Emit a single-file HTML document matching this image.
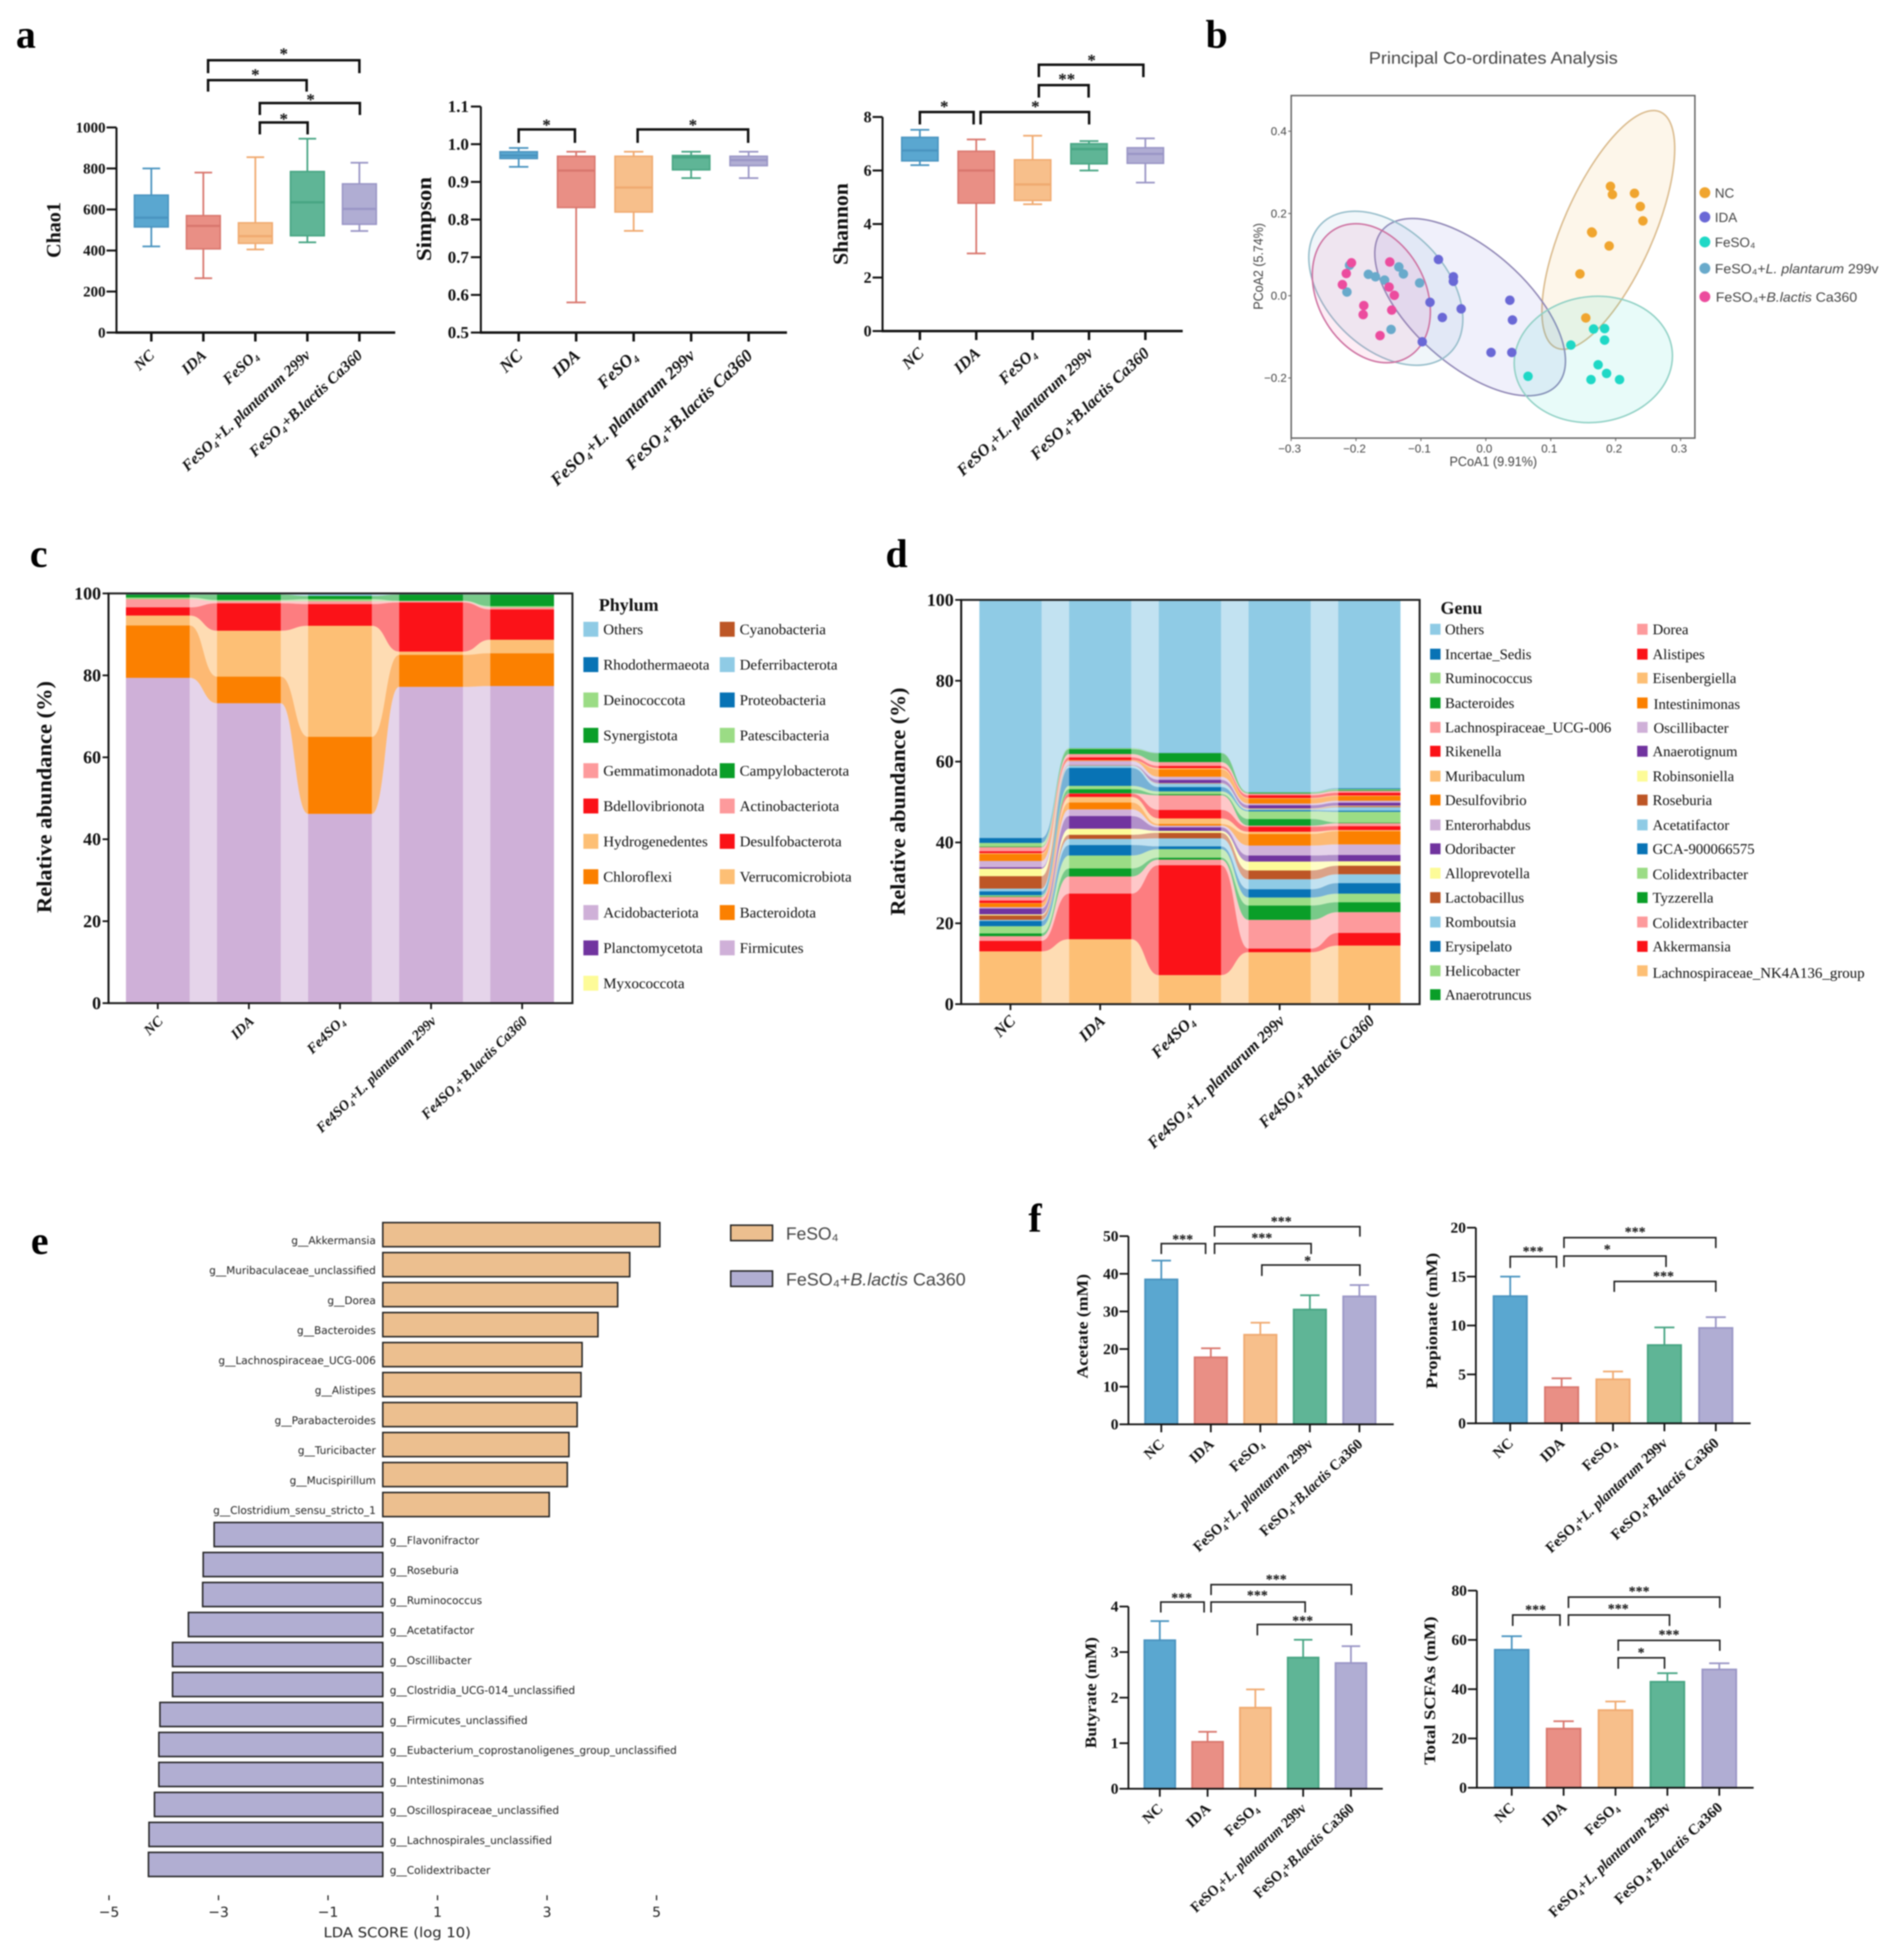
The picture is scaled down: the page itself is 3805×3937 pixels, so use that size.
<!DOCTYPE html>
<html lang="en">
<head>
<meta charset="utf-8">
<title>Gut microbiota and SCFA figure</title>
<style>
html,body{margin:0;padding:0;background:#fff}
#fig{display:block;filter:blur(1.3px)}
text{font-family:"Liberation Serif","DejaVu Serif",serif;fill:#111}
.pl{font-size:80px;font-weight:bold;fill:#000}
.yt{font-weight:bold;text-anchor:middle}
.lc{font-size:30px}
.ld{font-size:29.5px}
.br{fill:none;stroke:#111;stroke-width:5}
.brf{fill:none;stroke:#222;stroke-width:3.2}
.st{font-weight:bold;font-size:34px;text-anchor:middle}
.stf{font-weight:bold;font-size:28px;text-anchor:middle}
.sans{font-family:"Liberation Sans","DejaVu Sans",sans-serif;fill:#444}
.dj{font-family:"DejaVu Sans",sans-serif;fill:#222}
</style>
</head>
<body>
<svg id="fig" xmlns="http://www.w3.org/2000/svg" width="3805" height="3937" viewBox="0 0 3805 3937">
<rect width="3805" height="3937" fill="#fff"/>

<!-- panel letters -->
<text class="pl" x="32" y="96">a</text>
<text class="pl" x="2422" y="96">b</text>
<text class="pl" x="60" y="1139">c</text>
<text class="pl" x="1779" y="1139">d</text>
<text class="pl" x="62" y="2519">e</text>
<text class="pl" x="2066" y="2474">f</text>

<!-- panel a annotations -->
<g id="panelA">
<text class="yt" font-size="40" transform="rotate(-90 121 462)" x="121" y="462" textLength="112" lengthAdjust="spacingAndGlyphs">Chao1</text>
<text class="yt" font-size="42" transform="rotate(-90 866 440)" x="866" y="440" textLength="169" lengthAdjust="spacingAndGlyphs">Simpson</text>
<text class="yt" font-size="42" transform="rotate(-90 1703 450)" x="1703" y="450" textLength="164" lengthAdjust="spacingAndGlyphs">Shannon</text>
<g>
<path class="br" d="M418 147V121H722V147"/><text class="st" x="570" y="119">*</text>
<path class="br" d="M418 184V161H616V184"/><text class="st" x="513" y="161">*</text>
<path class="br" d="M522 231V207H723V231"/><text class="st" x="624" y="211">*</text>
<path class="br" d="M522 270V246H618V270"/><text class="st" x="570" y="250">*</text>
</g>
<g>
<path class="br" d="M1042 287V260H1155V287"/><text class="st" x="1098" y="262">*</text>
<path class="br" d="M1281 287V260H1503V287"/><text class="st" x="1392" y="262">*</text>
</g>
<g>
<path class="br" d="M1848 250V225H1956V250"/><text class="st" x="1897" y="225">*</text>
<path class="br" d="M1970 250V225H2188V250"/><text class="st" x="2080" y="225">*</text>
<path class="br" d="M2087 196V171H2187V196"/><text class="st" x="2143" y="170">**</text>
<path class="br" d="M2087 155V130H2297V155"/><text class="st" x="2193" y="132">*</text>
</g>
</g>

<!-- panel b static text -->
<g id="panelB">
<text class="sans" x="3000" y="128" font-size="34" text-anchor="middle" textLength="500" lengthAdjust="spacingAndGlyphs">Principal Co-ordinates Analysis</text>
<text class="sans" x="3000" y="936" font-size="27" text-anchor="middle" textLength="176" lengthAdjust="spacingAndGlyphs">PCoA1 (9.91%)</text>
<text class="sans" x="2537" y="535" font-size="27" text-anchor="middle" transform="rotate(-90 2537 535)" textLength="174" lengthAdjust="spacingAndGlyphs">PCoA2 (5.74%)</text>
<g>
<g><circle cx="3425" cy="387" r="11" fill="#f0a52f"/><text class="sans" x="3445" y="397" font-size="27" fill="#333">NC</text></g>
<g><circle cx="3425" cy="436" r="11" fill="#6a68d6"/><text class="sans" x="3445" y="446" font-size="27">IDA</text></g>
<g><circle cx="3425" cy="486" r="11" fill="#1fd8c6"/><text class="sans" x="3445" y="496" font-size="27">FeSO₄</text></g>
<g><circle cx="3425" cy="539" r="11" fill="#69aacb"/><text class="sans" x="3445" y="549" font-size="27" textLength="329" lengthAdjust="spacingAndGlyphs">FeSO₄+<tspan font-style="italic">L. plantarum</tspan> 299v</text></g>
<g><circle cx="3425" cy="596" r="11" fill="#ec4c9e"/><text class="sans" x="3447" y="606" font-size="27" textLength="284" lengthAdjust="spacingAndGlyphs">FeSO₄+<tspan font-style="italic">B.lactis</tspan> Ca360</text></g>
</g>
</g>

<!-- panel c static -->
<g id="panelC">
<text class="yt" font-size="42" transform="rotate(-90 103 1601)" x="103" y="1601" textLength="466" lengthAdjust="spacingAndGlyphs">Relative abundance (%)</text>
</g>
<g>
<text x="1203" y="1227" font-size="36" font-weight="bold">Phylum</text>
<g class="lc"><rect x="1172" y="1249" width="30" height="30" fill="#8fcbe5"/><text x="1212" y="1274">Others</text></g>
<g class="lc"><rect x="1172" y="1320" width="30" height="30" fill="#0873b5"/><text x="1212" y="1345">Rhodothermaeota</text></g>
<g class="lc"><rect x="1172" y="1391" width="30" height="30" fill="#9bdc85"/><text x="1212" y="1416">Deinococcota</text></g>
<g class="lc"><rect x="1172" y="1462" width="30" height="30" fill="#0a9e28"/><text x="1212" y="1487">Synergistota</text></g>
<g class="lc"><rect x="1172" y="1533" width="30" height="30" fill="#fd9a9c"/><text x="1212" y="1558">Gemmatimonadota</text></g>
<g class="lc"><rect x="1172" y="1604" width="30" height="30" fill="#fb1218"/><text x="1212" y="1629">Bdellovibrionota</text></g>
<g class="lc"><rect x="1172" y="1675" width="30" height="30" fill="#fdbf75"/><text x="1212" y="1700">Hydrogenedentes</text></g>
<g class="lc"><rect x="1172" y="1746" width="30" height="30" fill="#fb8000"/><text x="1212" y="1771">Chloroflexi</text></g>
<g class="lc"><rect x="1172" y="1818" width="30" height="30" fill="#cfb0d8"/><text x="1212" y="1843">Acidobacteriota</text></g>
<g class="lc"><rect x="1172" y="1889" width="30" height="30" fill="#71349f"/><text x="1212" y="1914">Planctomycetota</text></g>
<g class="lc"><rect x="1172" y="1960" width="30" height="30" fill="#fdfb98"/><text x="1212" y="1985">Myxococcota</text></g>
<g class="lc"><rect x="1446" y="1249" width="30" height="30" fill="#bd5626"/><text x="1486" y="1274">Cyanobacteria</text></g>
<g class="lc"><rect x="1446" y="1320" width="30" height="30" fill="#8fcbe5"/><text x="1486" y="1345">Deferribacterota</text></g>
<g class="lc"><rect x="1446" y="1391" width="30" height="30" fill="#0873b5"/><text x="1486" y="1416">Proteobacteria</text></g>
<g class="lc"><rect x="1446" y="1462" width="30" height="30" fill="#9bdc85"/><text x="1486" y="1487">Patescibacteria</text></g>
<g class="lc"><rect x="1446" y="1533" width="30" height="30" fill="#0a9e28"/><text x="1486" y="1558">Campylobacterota</text></g>
<g class="lc"><rect x="1446" y="1604" width="30" height="30" fill="#fd9a9c"/><text x="1486" y="1629">Actinobacteriota</text></g>
<g class="lc"><rect x="1446" y="1675" width="30" height="30" fill="#fb1218"/><text x="1486" y="1700">Desulfobacterota</text></g>
<g class="lc"><rect x="1446" y="1746" width="30" height="30" fill="#fdbf75"/><text x="1486" y="1771">Verrucomicrobiota</text></g>
<g class="lc"><rect x="1446" y="1818" width="30" height="30" fill="#fb8000"/><text x="1486" y="1843">Bacteroidota</text></g>
<g class="lc"><rect x="1446" y="1889" width="30" height="30" fill="#cfb0d8"/><text x="1486" y="1914">Firmicutes</text></g>
</g>

<!-- panel d static -->
<g id="panelD">
<text class="yt" font-size="42" transform="rotate(-90 1818 1610)" x="1818" y="1610" textLength="458" lengthAdjust="spacingAndGlyphs">Relative abundance (%)</text>
</g>
<g>
<text x="2894" y="1233" font-size="36" font-weight="bold">Genu</text>
<g class="ld"><rect x="2873" y="1253" width="21" height="22" fill="#8fcbe5"/><text x="2903" y="1274">Others</text></g>
<g class="ld"><rect x="2873" y="1303" width="21" height="22" fill="#0873b5"/><text x="2903" y="1324">Incertae_Sedis</text></g>
<g class="ld"><rect x="2873" y="1351" width="21" height="22" fill="#9bdc85"/><text x="2903" y="1372">Ruminococcus</text></g>
<g class="ld"><rect x="2873" y="1401" width="21" height="22" fill="#0a9e28"/><text x="2903" y="1422">Bacteroides</text></g>
<g class="ld"><rect x="2873" y="1450" width="21" height="22" fill="#fd9a9c"/><text x="2903" y="1471" textLength="334" lengthAdjust="spacingAndGlyphs">Lachnospiraceae_UCG-006</text></g>
<g class="ld"><rect x="2873" y="1498" width="21" height="22" fill="#fb1218"/><text x="2903" y="1519">Rikenella</text></g>
<g class="ld"><rect x="2873" y="1548" width="21" height="22" fill="#fdbf75"/><text x="2903" y="1569">Muribaculum</text></g>
<g class="ld"><rect x="2873" y="1596" width="21" height="22" fill="#fb8000"/><text x="2903" y="1617">Desulfovibrio</text></g>
<g class="ld"><rect x="2873" y="1646" width="21" height="22" fill="#cfb0d8"/><text x="2903" y="1667">Enterorhabdus</text></g>
<g class="ld"><rect x="2873" y="1694" width="21" height="22" fill="#71349f"/><text x="2903" y="1715">Odoribacter</text></g>
<g class="ld"><rect x="2873" y="1743" width="21" height="22" fill="#fdfb98"/><text x="2903" y="1764">Alloprevotella</text></g>
<g class="ld"><rect x="2873" y="1792" width="21" height="22" fill="#bd5626"/><text x="2903" y="1813">Lactobacillus</text></g>
<g class="ld"><rect x="2873" y="1841" width="21" height="22" fill="#8fcbe5"/><text x="2903" y="1862">Romboutsia</text></g>
<g class="ld"><rect x="2873" y="1890" width="21" height="22" fill="#0873b5"/><text x="2903" y="1911">Erysipelato</text></g>
<g class="ld"><rect x="2873" y="1939" width="21" height="22" fill="#9bdc85"/><text x="2903" y="1960">Helicobacter</text></g>
<g class="ld"><rect x="2873" y="1987" width="21" height="22" fill="#0a9e28"/><text x="2903" y="2008">Anaerotruncus</text></g>
<g class="ld"><rect x="3289" y="1253" width="21" height="22" fill="#fd9a9c"/><text x="3320" y="1274">Dorea</text></g>
<g class="ld"><rect x="3289" y="1303" width="21" height="22" fill="#fb1218"/><text x="3320" y="1324">Alistipes</text></g>
<g class="ld"><rect x="3289" y="1351" width="21" height="22" fill="#fdbf75"/><text x="3320" y="1372">Eisenbergiella</text></g>
<g class="ld"><rect x="3289" y="1401" width="21" height="22" fill="#fb8000"/><text x="3322" y="1424">Intestinimonas</text></g>
<g class="ld"><rect x="3289" y="1450" width="21" height="22" fill="#cfb0d8"/><text x="3322" y="1472">Oscillibacter</text></g>
<g class="ld"><rect x="3289" y="1498" width="21" height="22" fill="#71349f"/><text x="3320" y="1519">Anaerotignum</text></g>
<g class="ld"><rect x="3289" y="1548" width="21" height="22" fill="#fdfb98"/><text x="3320" y="1569">Robinsoniella</text></g>
<g class="ld"><rect x="3289" y="1596" width="21" height="22" fill="#bd5626"/><text x="3320" y="1617">Roseburia</text></g>
<g class="ld"><rect x="3289" y="1646" width="21" height="22" fill="#8fcbe5"/><text x="3320" y="1667">Acetatifactor</text></g>
<g class="ld"><rect x="3289" y="1694" width="21" height="22" fill="#0873b5"/><text x="3320" y="1715">GCA-900066575</text></g>
<g class="ld"><rect x="3289" y="1743" width="21" height="22" fill="#9bdc85"/><text x="3320" y="1766">Colidextribacter</text></g>
<g class="ld"><rect x="3289" y="1792" width="21" height="22" fill="#0a9e28"/><text x="3320" y="1813">Tyzzerella</text></g>
<g class="ld"><rect x="3289" y="1841" width="21" height="22" fill="#fd9a9c"/><text x="3320" y="1864">Colidextribacter</text></g>
<g class="ld"><rect x="3289" y="1890" width="21" height="22" fill="#fb1218"/><text x="3320" y="1911">Akkermansia</text></g>
<g class="ld"><rect x="3289" y="1939" width="21" height="22" fill="#fdbf75"/><text x="3320" y="1964" textLength="426" lengthAdjust="spacingAndGlyphs">Lachnospiraceae_NK4A136_group</text></g>
</g>

<!-- panel e static -->
<g id="panelE">
<text class="dj" x="798" y="3891" font-size="28" text-anchor="middle" textLength="296" lengthAdjust="spacingAndGlyphs">LDA SCORE (log 10)</text>
<g><rect x="1468" y="2461" width="84" height="31" fill="#ecbf8f" stroke="#222" stroke-width="3"/><text class="sans" x="1579" y="2490" font-size="35" fill="#222">FeSO₄</text></g>
<g><rect x="1468" y="2553" width="84" height="31" fill="#b1aed2" stroke="#222" stroke-width="3"/><text class="sans" x="1579" y="2582" font-size="35" textLength="361" lengthAdjust="spacingAndGlyphs">FeSO₄+<tspan font-style="italic">B.lactis</tspan> Ca360</text></g>
</g>

<!-- panel f static -->
<g id="panelF">
<text class="yt" font-size="32" transform="rotate(-90 2185 2664)" x="2185" y="2664" textLength="210" lengthAdjust="spacingAndGlyphs">Acetate (mM)</text>
<text class="yt" font-size="32" transform="rotate(-90 2887 2653)" x="2887" y="2653" textLength="273" lengthAdjust="spacingAndGlyphs">Propionate (mM)</text>
<text class="yt" font-size="32" transform="rotate(-90 2202 3400)" x="2202" y="3400" textLength="223" lengthAdjust="spacingAndGlyphs">Butyrate (mM)</text>
<text class="yt" font-size="32" transform="rotate(-90 2883 3396)" x="2883" y="3396" textLength="298" lengthAdjust="spacingAndGlyphs">Total SCFAs (mM)</text>
<g>
<path class="brf" d="M2333 2519V2498H2422V2519"/><text class="stf" x="2376" y="2499">***</text>
<path class="brf" d="M2440 2484V2464H2732V2484"/><text class="stf" x="2574" y="2463">***</text>
<path class="brf" d="M2440 2519V2498H2634V2519"/><text class="stf" x="2535" y="2496">***</text>
<path class="brf" d="M2535 2563V2541H2732V2563"/><text class="stf" x="2627" y="2542">*</text>
</g>
<g>
<path class="brf" d="M3034 2547V2524H3127V2547"/><text class="stf" x="3080" y="2523">***</text>
<path class="brf" d="M3142 2507V2486H3447V2507"/><text class="stf" x="3285" y="2484">***</text>
<path class="brf" d="M3142 2545V2523H3347V2545"/><text class="stf" x="3229" y="2519">*</text>
<path class="brf" d="M3243 2595V2574H3447V2595"/><text class="stf" x="3342" y="2573">***</text>
</g>
<g>
<path class="brf" d="M2332 3239V3218H2419V3239"/><text class="stf" x="2374" y="3219">***</text>
<path class="brf" d="M2433 3204V3183H2715V3204"/><text class="stf" x="2564" y="3182">***</text>
<path class="brf" d="M2433 3239V3218H2622V3239"/><text class="stf" x="2526" y="3214">***</text>
<path class="brf" d="M2526 3285V3263H2715V3285"/><text class="stf" x="2617" y="3265">***</text>
</g>
<g>
<path class="brf" d="M3039 3266V3244H3134V3266"/><text class="stf" x="3085" y="3243">***</text>
<path class="brf" d="M3151 3230V3208H3455V3230"/><text class="stf" x="3293" y="3206">***</text>
<path class="brf" d="M3151 3266V3244H3354V3266"/><text class="stf" x="3251" y="3241">***</text>
<path class="brf" d="M3251 3316V3295H3455V3316"/><text class="stf" x="3353" y="3293">***</text>
<path class="brf" d="M3251 3352V3330H3344V3352"/><text class="stf" x="3297" y="3329">*</text>
</g>
</g>
</svg>

<script>
/* ---------- panel a data ---------- */
const alphaGroups = ['NC','IDA','FeSO₄','FeSO₄+L. plantarum 299v','FeSO₄+B.lactis Ca360'];
const chaoLow  = [420,265,405,440,495];
const chaoQ1   = [515,408,435,472,528];
const chaoMed  = [560,520,470,635,603];
const chaoQ3   = [670,570,535,785,725];
const chaoHigh = [800,780,855,945,828];
const chaoTicks = [0,200,400,600,800,1000];
const simpLow  = [0.94,0.58,0.77,0.91,0.91];
const simpQ1   = [0.962,0.832,0.82,0.932,0.943];
const simpMed  = [0.97,0.93,0.885,0.965,0.958];
const simpQ3   = [0.98,0.968,0.968,0.97,0.968];
const simpHigh = [0.99,0.98,0.98,0.98,0.98];
const simpTicks = ['0.5','0.6','0.7','0.8','0.9','1.0','1.1'];
const shanLow  = [6.2,2.9,4.74,6.0,5.55];
const shanQ1   = [6.36,4.78,4.88,6.25,6.27];
const shanMed  = [6.75,6.0,5.48,6.8,6.62];
const shanQ3   = [7.24,6.72,6.4,7.0,6.85];
const shanHigh = [7.52,7.16,7.3,7.1,7.2];
const shanTicks = [0,2,4,6,8];

/* ---------- panel b data ---------- */
const pcoaGroups = ['nc','ida','feso4','l-plantarum','b-lactis'];
const pcoaXTicks = [-0.3,-0.2,-0.1,0,0.1,0.2,0.3];
const pcoaYTicks = [-0.2,0,0.2,0.4];
const ncX = [0.192,0.195,0.229,0.238,0.242,0.163,0.164,0.190,0.145,0.154];
const ncY = [0.266,0.246,0.249,0.217,0.182,0.155,0.153,0.121,0.053,-0.054];
const idaX = [-0.073,-0.050,-0.050,-0.086,-0.038,-0.067,0.037,0.041,0.008,0.040,-0.098];
const idaY = [0.088,0.046,0.035,-0.016,-0.032,-0.053,-0.011,-0.059,-0.138,-0.138,-0.112];
const feX = [0.166,0.183,0.183,0.131,0.173,0.186,0.162,0.206,0.065];
const feY = [-0.081,-0.080,-0.108,-0.120,-0.168,-0.189,-0.204,-0.204,-0.196];
const lpX = [-0.210,-0.181,-0.170,-0.156,-0.134,-0.127,-0.102,-0.214,-0.146];
const lpY = [0.074,0.052,0.046,0.038,0.070,0.053,0.031,0.009,-0.082];
const blX = [-0.207,-0.215,-0.221,-0.148,-0.149,-0.141,-0.188,-0.189,-0.145,-0.163];
const blY = [0.080,0.054,0.027,0.082,0.021,0.001,-0.024,-0.046,-0.035,-0.097];
const ellipseCx = [0.1887,-0.0242,0.1656,-0.1541,-0.1764];
const ellipseCy = [0.160,-0.0278,-0.155,0.0182,0.006];

/* ---------- panel c data (share of each phylum per group) ---------- */
const stackGroups = ['NC','IDA','Fe4SO₄','Fe4SO₄+L. plantarum 299v','Fe4SO₄+B.lactis Ca360'];
const abundanceTicks = [0,20,40,60,80,100];
const firmicutes   = [79.4,73.2,46.2,77.2,77.4];
const bacteroidota = [12.8,6.5,18.8,7.8,8.0];
const verrucomicro = [2.4,11.2,27.1,0.8,3.3];
const desulfobact  = [2.0,6.7,5.3,12.0,7.4];
const actinobact   = [2.0,0.5,0.7,0.3,0.5];
const patescibact  = [0.4,0.3,0.5,0.1,0.3];
const campylobact  = [0.7,1.3,0.8,1.5,2.8];
const otherPhyla   = [0.3,0.3,0.6,0.3,0.3];

/* ---------- panel d data (bottom-to-top genus order) ---------- */
const genusNames = ['lachnospiraceae-nk4a136','akkermansia','colidextribacter-a','tyzzerella','colidextribacter-b','gca-900066575','acetatifactor','roseburia','robinsoniella','anaerotignum','oscillibacter','intestinimonas','eisenbergiella','alistipes','dorea','anaerotruncus','helicobacter','erysipelato','romboutsia','lactobacillus','alloprevotella','odoribacter','enterorhabdus','desulfovibrio','muribaculum','rikenella','lachnospiraceae-ucg-006','bacteroides','ruminococcus','incertae-sedis','others'];
const genusNC  = [13.06,2.6,1.16,0.68,1.78,1.3,0.27,1.09,0.27,1.44,0.34,0.96,0.07,0.62,0.89,0.14,0.27,0.96,0.68,3.08,1.85,0.34,1.57,1.71,0.21,0.48,1.03,0.14,0.89,1.23,58.92];
const genusIDA = [16.06,11.28,4.24,1.98,3.21,2.6,1.5,1.03,1.5,3.14,1.64,1.71,1.37,0.82,0.07,1.03,0.82,4.44,0.55,0.07,0.07,0.07,0.96,0.14,0.07,0.68,0.82,1.23,0.21,0.07,36.64];
const genusFe  = [7.18,27.2,1.37,0.48,2.12,0.68,1.98,1.37,0.48,0.89,0.41,0.41,1.37,2.12,3.62,0.27,0.68,1.09,0.82,0.07,0.07,0.82,0.75,1.85,0.27,0.55,0.96,2.19,0.07,0.07,37.8];
const genusLp  = [12.85,0.89,7.11,3.55,1.98,2.05,2.46,2.19,2.19,1.5,2.46,2.87,0.55,1.23,0.27,1.64,1.91,0.27,0.21,0.07,0.14,0.82,0.41,1.23,0.14,0.68,0.41,0.21,0.14,0.07,47.5];
const genusBl  = [14.49,3.14,5.13,2.46,2.12,2.6,2.19,2.12,1.09,1.57,2.6,3.28,0.27,0.96,0.75,0.14,2.67,0.27,0.89,0.21,0.14,0.75,0.48,1.16,0.14,0.68,0.48,0.21,0.21,0.21,46.62];

/* ---------- panel e data ---------- */
const ldaTaxa = ['g__Akkermansia','g__Muribaculaceae_unclassified','g__Dorea','g__Bacteroides','g__Lachnospiraceae_UCG-006','g__Alistipes','g__Parabacteroides','g__Turicibacter','g__Mucispirillum','g__Clostridium_sensu_stricto_1','g__Flavonifractor','g__Roseburia','g__Ruminococcus','g__Acetatifactor','g__Oscillibacter','g__Clostridia_UCG-014_unclassified','g__Firmicutes_unclassified','g__Eubacterium_coprostanoligenes_group_unclassified','g__Intestinimonas','g__Oscillospiraceae_unclassified','g__Lachnospirales_unclassified','g__Colidextribacter'];
const ldaScores = [5.06,4.51,4.29,3.93,3.64,3.62,3.55,3.40,3.37,3.04,-3.08,-3.28,-3.29,-3.55,-3.84,-3.84,-4.07,-4.09,-4.09,-4.17,-4.27,-4.28];
const ldaTicks = [-5,-3,-1,1,3,5];

/* ---------- panel f data ---------- */
const acetateMean = [38.5,17.8,23.8,30.5,34.0];
const acetateUpper = [43.5,20.2,27.0,34.3,37.0];
const acetateTicks = [0,10,20,30,40,50];
const propionateMean = [13.0,3.7,4.5,8.0,9.75];
const propionateUpper = [15.0,4.6,5.3,9.8,10.85];
const propionateTicks = [0,5,10,15,20];
const butyrateMean = [3.26,1.03,1.78,2.88,2.76];
const butyrateUpper = [3.68,1.25,2.18,3.27,3.13];
const butyrateTicks = [0,1,2,3,4];
const totalMean = [56,24,31.5,43,48];
const totalUpper = [61.5,27,35,46.5,50.5];
const totalTicks = [0,20,40,60,80];

/* ---------- helpers ---------- */
const NS = 'http://www.w3.org/2000/svg';
const SERIF = '"Liberation Serif","DejaVu Serif",serif';
const groupFill = ['#5aa7d0','#e98f85','#f7bf8b','#5fb596','#b0add3'];
const groupEdge = ['#4a94c0','#d9776e','#f0aa70','#47a583','#9a96c6'];
const C = {sky:'#8fcbe5',blue:'#0873b5',lime:'#9bdc85',green:'#0a9e28',pink:'#fd9a9c',red:'#fb1218',peach:'#fdbf75',orange:'#fb8000',lilac:'#cfb0d8',purple:'#71349f',yellow:'#fdfb98',brown:'#bd5626'};

function mk(parent, tag, attrs, txt) {
  const n = document.createElementNS(NS, tag);
  for (const k in attrs) n.setAttribute(k, attrs[k]);
  if (txt !== undefined) n.textContent = txt;
  parent.appendChild(n);
  return n;
}
function linear(d0, d1, r0, r1) {
  return v => r0 + (v - d0) * (r1 - r0) / (d1 - d0);
}
function slug(s) {
  return String(s).toLowerCase().replace(/[^a-z0-9]+/g, '-').replace(/^-|-$/g, '');
}

function yAxis(g, key, ax, sy, ticks, o) {
  const ys = ticks.map(t => sy(+t));
  const line = mk(g, 'line', {x1: ax, x2: ax, y1: Math.min(...ys), y2: Math.max(...ys), stroke: o.color || '#111', 'stroke-width': o.sw});
  
  
  ticks.forEach(t => {
    const tk = mk(g, 'line', {x1: ax - o.len, x2: ax, y1: sy(+t), y2: sy(+t), stroke: o.color || '#111', 'stroke-width': o.sw});
    
    
    const lb = mk(g, 'text', {x: ax - o.gap, y: sy(+t) + o.size * 0.33, 'font-size': o.size, 'font-weight': 'bold', 'text-anchor': 'end', 'font-family': SERIF}, String(t));
    
    
  });
}

function xAxis(g, key, ax, end, axisY, xs, o) {
  const line = mk(g, 'line', {x1: ax - 2, x2: end, y1: axisY, y2: axisY, stroke: '#111', 'stroke-width': o.sw});
  
  
  xs.forEach(x => {
    const tk = mk(g, 'line', {x1: x, x2: x, y1: axisY, y2: axisY + o.len, stroke: '#111', 'stroke-width': o.sw});
    
    
  });
}

function rotatedLabels(g, key, labels, xs, axisY, o) {
  labels.forEach((label, i) => {
    const x = xs[i] + o.dx, y = axisY + o.dy;
    const t = mk(g, 'text', {x: x, y: y, 'font-size': o.size, 'font-weight': 'bold', 'text-anchor': 'end', 'font-family': SERIF, transform: 'rotate(' + o.angle + ' ' + x + ' ' + y + ')'});
    
    
    if (o.lens[i]) { t.setAttribute('textLength', o.lens[i]); t.setAttribute('lengthAdjust', 'spacingAndGlyphs'); }
    if (o.allItalic) {
      t.setAttribute('font-style', 'italic');
      t.textContent = label;
    } else {
      label.split(/(L\. plantarum|B\.lactis)/).forEach(part => {
        mk(t, 'tspan', /^(L\.|B\.)/.test(part) ? {'font-style': 'italic'} : {}, part);
      });
    }
  });
}

function boxPanel(key, ax, end, axisY, sy, xs, w, low, q1, med, q3, high, ticks, tickOpt, labelOpt) {
  const g = mk(document.getElementById('panelA'), 'g', {});
  
  
  xs.forEach((x, i) => {
    const wh = mk(g, 'line', {x1: x, x2: x, y1: sy(high[i]), y2: sy(low[i]), stroke: groupEdge[i], 'stroke-width': 3.5});
    
    
    const capTop = mk(g, 'line', {x1: x - w * 0.26, x2: x + w * 0.26, y1: sy(high[i]), y2: sy(high[i]), stroke: groupEdge[i], 'stroke-width': 3.5});
    
    
    const capLow = mk(g, 'line', {x1: x - w * 0.26, x2: x + w * 0.26, y1: sy(low[i]), y2: sy(low[i]), stroke: groupEdge[i], 'stroke-width': 3.5});
    
    
    const box = mk(g, 'rect', {x: x - w / 2, y: sy(q3[i]), width: w, height: sy(q1[i]) - sy(q3[i]), fill: groupFill[i], stroke: groupEdge[i], 'stroke-width': 3});
    
    
    const md = mk(g, 'line', {x1: x - w / 2, x2: x + w / 2, y1: sy(med[i]), y2: sy(med[i]), stroke: groupEdge[i], 'stroke-width': 4.5});
    
    
  });
  yAxis(g, key, ax, sy, ticks, tickOpt);
  xAxis(g, key, ax, end, axisY, xs, {sw: 5, len: 18});
  rotatedLabels(g, key, alphaGroups, xs, axisY, labelOpt);
}

function stackPanel(parentId, key, seriesNames, seriesColors, matrix, xs, barW, sy, o) {
  const parent = document.getElementById(parentId);
  const g = mk(parent, 'g', {});
  
  
  const cum = xs.map(() => 0);
  seriesNames.forEach((name, s) => {
    const lows = cum.slice();
    const highs = cum.map((c, i) => c + matrix[i][s]);
    for (let i = 0; i < xs.length - 1; i++) {
      const x1 = xs[i] + barW / 2, x2 = xs[i + 1] - barW / 2, m = (x1 + x2) / 2;
      const d = 'M' + x1 + ' ' + sy(highs[i]) + 'C' + m + ' ' + sy(highs[i]) + ' ' + m + ' ' + sy(highs[i + 1]) + ' ' + x2 + ' ' + sy(highs[i + 1]) +
        'L' + x2 + ' ' + sy(lows[i + 1]) + 'C' + m + ' ' + sy(lows[i + 1]) + ' ' + m + ' ' + sy(lows[i]) + ' ' + x1 + ' ' + sy(lows[i]) + 'Z';
      const flow = mk(g, 'path', {d: d, fill: seriesColors[s], opacity: 0.55});
      
      
    }
    xs.forEach((x, i) => {
      const r = mk(g, 'rect', {x: x - barW / 2, y: sy(highs[i]), width: barW, height: sy(lows[i]) - sy(highs[i]), fill: seriesColors[s]});
      
      
      cum[i] = highs[i];
    });
  });
  const frame = mk(g, 'rect', {x: o.left, y: sy(100), width: o.right - o.left, height: sy(0) - sy(100), fill: 'none', stroke: '#222', 'stroke-width': 4});
  
  
  yAxis(g, key, o.left, sy, abundanceTicks, {sw: 3.5, len: 12, gap: 15, size: 36});
  xs.forEach(x => {
    const tk = mk(g, 'line', {x1: x, x2: x, y1: sy(0), y2: sy(0) + 12, stroke: '#111', 'stroke-width': 3.5});
    
    
  });
  rotatedLabels(g, key, stackGroups, xs, sy(0), o.labels);
}

function barPanel(key, ax, end, sy, xs, w, means, uppers, ticks, lens) {
  const g = mk(document.getElementById('panelF'), 'g', {});
  
  
  xs.forEach((x, i) => {
    const eb = mk(g, 'line', {x1: x, x2: x, y1: sy(uppers[i]), y2: sy(means[i]), stroke: groupEdge[i], 'stroke-width': 3.5});
    
    
    const cap = mk(g, 'line', {x1: x - w * 0.3, x2: x + w * 0.3, y1: sy(uppers[i]), y2: sy(uppers[i]), stroke: groupEdge[i], 'stroke-width': 3.5});
    
    
    const bar = mk(g, 'rect', {x: x - w / 2, y: sy(means[i]), width: w, height: sy(0) - sy(means[i]), fill: groupFill[i], stroke: groupEdge[i], 'stroke-width': 3.5});
    
    
  });
  yAxis(g, key, ax, sy, ticks, {sw: 3.5, len: 18, gap: 20, size: 31});
  xAxis(g, key, ax, end, sy(0), xs, {sw: 3.5, len: 16});
  rotatedLabels(g, key, alphaGroups, xs, sy(0), {size: 30, dx: 8, dy: 42, angle: -43, allItalic: false, lens: lens});
}

function seq(x0, step) { return [0, 1, 2, 3, 4].map(i => x0 + step * i); }

/* ---------- panel a ---------- */
boxPanel('chao1', 234, 794, 668, linear(0, 1000, 668, 256), seq(304, 104.5), 68,
  chaoLow, chaoQ1, chaoMed, chaoQ3, chaoHigh, chaoTicks,
  {sw: 4, len: 20, gap: 22, size: 30},
  {size: 31, dx: 8, dy: 48, angle: -43, allItalic: true, lens: [0, 0, 0, 340, 298]});
boxPanel('simpson', 966, 1581, 668, linear(0.5, 1.1, 668, 214), seq(1042, 115.5), 75,
  simpLow, simpQ1, simpMed, simpQ3, simpHigh, simpTicks,
  {sw: 4, len: 20, gap: 24, size: 34},
  {size: 35, dx: 10, dy: 49, angle: -43, allItalic: true, lens: [0, 0, 0, 382, 334]});
boxPanel('shannon', 1773, 2376, 665, linear(0, 8, 665, 235), seq(1848, 113.25), 73,
  shanLow, shanQ1, shanMed, shanQ3, shanHigh, shanTicks,
  {sw: 4, len: 20, gap: 22, size: 32},
  {size: 33, dx: 10, dy: 47, angle: -43, allItalic: true, lens: [0, 0, 0, 360, 313]});

/* ---------- panel b ---------- */
(function () {
  const parent = document.getElementById('panelB');
  const px = linear(0, 0.1, 2985, 3115.4);
  const py = linear(0, 0.2, 594, 428.8);
  const fills = ['#f0a52f','#6a68d6','#1fd8c6','#69aacb','#ec4c9e'];
  const strokes = ['#d9b98a','#8f86b5','#8fd0c4','#94bcc9','#cd6f9f'];
  const major = [259, 234.5, 159.4, 183, 148];
  const minor = [90.6, 115.7, 126.4, 120, 108];
  const tilt = [23.8, -48.45, 83, -45, -29];
  const xsets = [ncX, idaX, feX, lpX, blX];
  const ysets = [ncY, idaY, feY, lpY, blY];
  pcoaGroups.forEach((name, i) => {
    const cx = px(ellipseCx[i]), cy = py(ellipseCy[i]);
    const e = mk(parent, 'ellipse', {cx: cx, cy: cy, rx: minor[i], ry: major[i], fill: fills[i], 'fill-opacity': 0.1, stroke: strokes[i], 'stroke-width': 3, transform: 'rotate(' + tilt[i] + ' ' + cx + ' ' + cy + ')'});
    
    
  });
  pcoaGroups.forEach((name, i) => {
    xsets[i].forEach((v, k) => {
      const c = mk(parent, 'circle', {cx: px(v), cy: py(ysets[i][k]), r: 9.5, fill: fills[i]});
      
      
    });
  });
  const frame = mk(parent, 'rect', {x: 2594, y: 192, width: 811, height: 688, fill: 'none', stroke: '#666', 'stroke-width': 3});
  
  
  pcoaXTicks.forEach(t => {
    const tk = mk(parent, 'line', {x1: px(t), x2: px(t), y1: 880, y2: 886, stroke: '#666', 'stroke-width': 2});
    
    
    const lb = mk(parent, 'text', {x: px(t) - 3, y: 909, 'font-size': 23, 'text-anchor': 'middle', class: 'sans'}, String(t).replace('-', '−') .replace(/^0$/, '0.0'));
    
    
  });
  pcoaYTicks.forEach(t => {
    const tk = mk(parent, 'line', {x1: 2588, x2: 2594, y1: py(t), y2: py(t), stroke: '#666', 'stroke-width': 2});
    
    
    const lb = mk(parent, 'text', {x: 2585, y: py(t) + 8, 'font-size': 23, 'text-anchor': 'end', class: 'sans'}, String(t).replace('-', '−').replace(/^0$/, '0.0'));
    
    
  });
})();

/* ---------- panel c ---------- */
stackPanel('panelC', 'phylum',
  ['firmicutes','bacteroidota','verrucomicrobiota','desulfobacterota','actinobacteriota','patescibacteria','campylobacterota','others'],
  [C.lilac, C.orange, C.peach, C.red, C.pink, C.lime, C.green, C.sky],
  [0, 1, 2, 3, 4].map(i => [firmicutes[i], bacteroidota[i], verrucomicro[i], desulfobact[i], actinobact[i], patescibact[i], campylobact[i], otherPhyla[i]]),
  seq(317, 183), 128, linear(0, 100, 2015, 1192),
  {left: 218, right: 1150, labels: {size: 29, dx: 12, dy: 38, angle: -44, allItalic: true, lens: [0, 0, 0, 322, 283]}});

/* ---------- panel d ---------- */
(function () {
  const order = [C.peach, C.red, C.pink, C.green, C.lime, C.blue, C.sky, C.brown, C.yellow, C.purple, C.lilac, C.orange,
    C.peach, C.red, C.pink, C.green, C.lime, C.blue, C.sky, C.brown, C.yellow, C.purple, C.lilac, C.orange,
    C.peach, C.red, C.pink, C.green, C.lime, C.blue, C.sky];
  stackPanel('panelD', 'genus', genusNames, order, [genusNC, genusIDA, genusFe, genusLp, genusBl],
    seq(2030, 180.25), 125, linear(0, 100, 2017, 1205),
    {left: 1931, right: 2852, labels: {size: 33, dx: 12, dy: 36, angle: -44, allItalic: true, lens: [0, 0, 0, 368, 308]}});
})();

/* ---------- panel e ---------- */
(function () {
  const parent = document.getElementById('panelE');
  const sx = linear(0, 1, 769, 879);
  const rowY = i => 2480 + 60.24 * i;
  const rowH = 48.5;
  ldaTaxa.forEach((name, i) => {
    const v = ldaScores[i];
    const r = mk(parent, 'rect', {x: Math.min(sx(0), sx(v)), y: rowY(i) - rowH / 2, width: Math.abs(sx(v) - sx(0)), height: rowH, fill: v > 0 ? '#ecbf8f' : '#b1aed2', stroke: '#222', 'stroke-width': 3});
    
    
    const t = mk(parent, 'text', {x: v > 0 ? 755 : 783, y: rowY(i) + 19, 'font-size': 21, 'text-anchor': v > 0 ? 'end' : 'start', class: 'dj'}, name);
    
    
  });
  ldaTicks.forEach(v => {
    const tk = mk(parent, 'line', {x1: sx(v), x2: sx(v), y1: 3807, y2: 3817, stroke: '#222', 'stroke-width': 2.5});
    
    
    const lb = mk(parent, 'text', {x: sx(v), y: 3850, 'font-size': 28, 'text-anchor': 'middle', class: 'dj'}, String(v).replace('-', '−'));
    
    
  });
})();

/* ---------- panel f ---------- */
barPanel('acetate', 2267, 2800, linear(0, 50, 2861, 2483), seq(2333, 99.5), 65, acetateMean, acetateUpper, acetateTicks, [0, 0, 0, 316, 270]);
barPanel('propionate', 2965, 3517, linear(0, 20, 2859, 2466), seq(3034, 103.25), 67, propionateMean, propionateUpper, propionateTicks, [0, 0, 0, 322, 284]);
barPanel('butyrate', 2267, 2778, linear(0, 4, 3593, 3227), seq(2330, 96), 62, butyrateMean, butyrateUpper, butyrateTicks, [0, 0, 0, 305, 263]);
barPanel('total-scfas', 2967, 3523, linear(0, 80, 3591, 3195), seq(3037, 104.25), 68, totalMean, totalUpper, totalTicks, [0, 0, 0, 322, 284]);
</script>
</body>
</html>
